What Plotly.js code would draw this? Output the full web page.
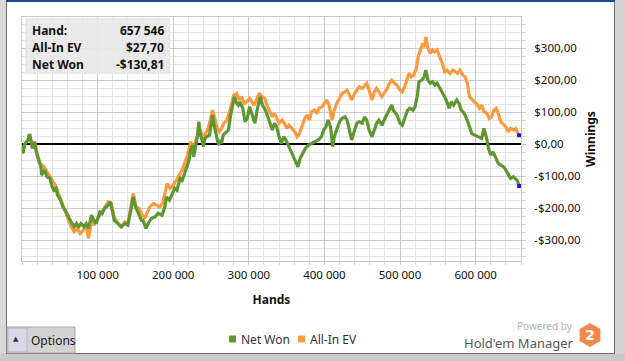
<!DOCTYPE html>
<html>
<head>
<meta charset="utf-8">
<script src="https://cdn.plot.ly/plotly-3.0.1.min.js"></script>
<style>html,body{margin:0;padding:0;background:#fff;}#chart{width:625px;height:361px;}</style>
</head>
<body>
<div id="chart"></div>
<script>
// ---- data ----
const netWonHands = [0,1000,4000,8000,10000,12000,14000,17000,19000,22000,25000,26000,30000,33000,37000,39000,42000,45000,47000,51000,54000,57000,61000,65000,69000,72000,75000,78000,82000,85000,88000,92000,95000,98000,103000,106000,109000,114000,117000,120000,122000,127000,131000,136000,140000,144000,147000,149000,151000,154000,158000,160000,164000,167000,171000,176000,180000,185000,189000,191000,195000,199000,202000,205000,209000,212000,215000,219000,221000,223000,226000,227000,230000,232000,234000,235000,238000,240000,242000,244000,248000,250000,252000,254000,256000,260000,262000,264000,266000,270000,273000,276000,279000,281000,283000,286000,288000,292000,295000,298000,301000,305000,308000,311000,315000,318000,322000,326000,331000,334000,337000,340000,343000,346000,349000,353000,356000,359000,362000,365000,368000,370000,375000,379000,383000,388000,392000,396000,399000,402000,405000,408000,411000,413000,417000,420000,423000,427000,430000,433000,436000,440000,443000,446000,450000,453000,456000,459000,463000,466000,469000,472000,476000,480000,483000,486000,489000,491000,496000,500000,503000,506000,510000,513000,517000,520000,523000,525000,529000,532000,534000,537000,540000,543000,546000,549000,553000,556000,559000,562000,565000,568000,571000,575000,578000,581000,585000,588000,592000,595000,599000,603000,608000,611000,614000,617000,620000,623000,627000,630000,633000,637000,640000,643000,646000,650000,653000,655000,657546];
const netWonValues = [-3,-29,2,13,31,13,-13,7,-24,-50,-71,-97,-81,-102,-107,-128,-144,-138,-159,-175,-196,-206,-227,-243,-258,-248,-258,-248,-258,-248,-263,-222,-238,-248,-212,-217,-201,-191,-180,-212,-238,-248,-258,-248,-253,-206,-165,-185,-201,-216,-238,-238,-263,-248,-232,-227,-216,-222,-196,-165,-175,-154,-138,-144,-107,-113,-92,-71,-50,-19,-3,-40,-8,23,70,38,13,-8,18,23,28,59,91,59,38,-3,13,2,28,38,44,91,122,148,132,122,132,112,70,81,117,85,65,106,148,122,106,80,44,65,54,23,2,23,13,-8,-24,-40,-55,-71,-44,-34,-13,-3,2,7,13,23,44,54,75,54,-8,23,54,70,80,85,75,44,13,44,65,70,65,85,75,44,23,44,65,75,59,80,96,106,122,106,91,65,59,80,106,112,106,117,153,195,200,210,231,200,190,195,184,190,174,163,148,132,112,132,122,138,127,106,96,80,49,33,28,23,18,49,23,-13,-34,-24,-45,-60,-65,-71,-81,-97,-107,-102,-107,-113,-130.81];

const allInHands = [0,1000,4000,8000,10000,12000,14000,17000,19000,22000,24000,29000,34000,40000,45000,50000,55000,61000,65000,69000,73000,77000,81000,85000,88000,92000,95000,99000,103000,108000,114000,118000,122000,127000,132000,136000,140000,144000,147000,151000,155000,159000,163000,165000,169000,174000,178000,182000,186000,189000,192000,196000,200000,204000,209000,212000,215000,219000,221000,223000,226000,229000,232000,234000,238000,241000,243000,246000,249000,252000,255000,258000,261000,264000,267000,271000,274000,277000,280000,284000,287000,290000,294000,297000,301000,304000,307000,310000,314000,317000,321000,324000,327000,331000,334000,337000,340000,344000,347000,350000,353000,357000,361000,364000,367000,370000,374000,377000,380000,383000,387000,390000,393000,397000,400000,403000,406000,410000,413000,417000,420000,423000,427000,430000,433000,436000,440000,443000,446000,450000,453000,456000,459000,463000,466000,469000,472000,476000,480000,483000,486000,489000,493000,496000,500000,503000,506000,510000,512000,515000,518000,521000,524000,527000,530000,533000,534000,537000,540000,543000,546000,549000,553000,556000,559000,562000,566000,570000,573000,576000,579000,583000,586000,589000,592000,595000,598000,601000,605000,608000,611000,615000,618000,621000,624000,627000,630000,633000,637000,640000,643000,646000,650000,653000,655000,657546];
const allInValues = [-3,-29,2,13,31,13,-13,7,-24,-45,-60,-71,-91,-113,-133,-165,-196,-232,-258,-274,-263,-279,-269,-258,-294,-238,-253,-238,-222,-206,-180,-185,-227,-248,-258,-243,-248,-196,-154,-196,-201,-222,-232,-216,-196,-185,-191,-196,-185,-154,-123,-138,-128,-113,-92,-81,-60,-34,-13,7,-8,2,28,59,28,18,34,49,75,106,80,49,39,49,65,75,96,127,153,158,138,148,127,132,143,132,122,138,159,148,143,122,106,85,96,80,65,75,65,49,59,49,38,23,33,54,80,91,75,101,106,96,112,117,127,138,122,75,106,132,143,158,163,169,153,138,159,169,179,174,184,190,169,138,163,174,163,148,163,174,190,200,190,184,169,163,179,210,221,210,216,231,273,294,315,304,335,299,283,294,288,294,273,252,226,231,221,231,226,221,231,216,210,190,148,138,132,127,112,122,101,96,80,85,106,112,96,70,59,54,38,49,44,49,38,27.70];

const seriesNames = ["Net Won", "All-In EV"];
const seriesColors = ["#5e9732", "#fb9a3e"];
const xTickVals = [100000, 200000, 300000, 400000, 500000, 600000];
const xTickText = ["100 000", "200 000", "300 000", "400 000", "500 000", "600 000"];
const yTickVals = [-300, -200, -100, 0, 100, 200, 300];
const yTickText = ["-$300,00", "-$200,00", "-$100,00", "$0,00", "$100,00", "$200,00", "$300,00"];
const infoLabels = ["Hand:", "All-In EV", "Net Won"];
const infoValues = ["657 546", "$27,70", "-$130,81"];

// ---- pixel helpers for decorations (plot area: x 22..521, y 17..261) ----
const PL = 22, PR = 521, PT = 17, PB = 261;
const fx = px => (px - PL) / (PR - PL);
const fy = py => (PB - py) / (PB - PT);

const FONT = "Noto Sans, Open Sans, sans-serif";
const last = a => a[a.length - 1];

const traces = [
  {x: allInHands, y: allInValues, type: "scatter", mode: "lines", name: seriesNames[1], line: {color: seriesColors[1], width: 3.2}, showlegend: false, hoverinfo: "skip"},
  {x: netWonHands, y: netWonValues, type: "scatter", mode: "lines", name: seriesNames[0], line: {color: seriesColors[0], width: 3.2}, showlegend: false, hoverinfo: "skip"},
  {x: [last(allInHands), last(netWonHands)], y: [last(allInValues), last(netWonValues)], type: "scatter", mode: "markers",
   marker: {color: "#1414e6", size: 4, symbol: "square"}, showlegend: false, hoverinfo: "skip", cliponaxis: false}
];

const shapes = [
  // window frame
  {type: "rect", xref: "paper", yref: "paper", x0: fx(0), x1: fx(6), y0: fy(361), y1: fy(0), fillcolor: "#d9d9d9", line: {width: 0}, layer: "above"},
  {type: "line", xref: "paper", yref: "paper", x0: fx(6.5), x1: fx(6.5), y0: fy(353), y1: fy(0), line: {color: "#6e6e6e", width: 1}, layer: "above"},
  {type: "rect", xref: "paper", yref: "paper", x0: fx(615), x1: fx(625), y0: fy(361), y1: fy(0), fillcolor: "#d4d4d4", line: {width: 0}, layer: "above"},
  {type: "line", xref: "paper", yref: "paper", x0: fx(614.5), x1: fx(614.5), y0: fy(353), y1: fy(0), line: {color: "#6e6e6e", width: 1}, layer: "above"},
  {type: "rect", xref: "paper", yref: "paper", x0: fx(0), x1: fx(625), y0: fy(361), y1: fy(353.5), fillcolor: "#c9c9c9", line: {width: 0}, layer: "above"},
  {type: "line", xref: "paper", yref: "paper", x0: fx(6), x1: fx(615), y0: fy(353.5), y1: fy(353.5), line: {color: "#6e6e6e", width: 1}, layer: "above"},
  {type: "rect", xref: "paper", yref: "paper", x0: fx(6), x1: fx(615), y0: fy(2), y1: fy(0), fillcolor: "#1d4b93", line: {width: 0}, layer: "above"},
  // info box
  {type: "rect", xref: "paper", yref: "paper", x0: fx(25), x1: fx(170), y0: fy(74), y1: fy(18), fillcolor: "rgba(232,232,232,0.92)", line: {width: 0}, layer: "above"},
  // Options button
  {type: "rect", xref: "paper", yref: "paper", x0: fx(7), x1: fx(75), y0: fy(353), y1: fy(327), fillcolor: "#d3d3d3", line: {color: "#a8a8a8", width: 1}, layer: "above"},
  {type: "rect", xref: "paper", yref: "paper", x0: fx(8), x1: fx(27), y0: fy(352), y1: fy(328), fillcolor: "#d8d8e6", line: {color: "#b8b8c8", width: 1}, layer: "above"},
  // legend squares
  {type: "rect", xref: "paper", yref: "paper", x0: fx(229), x1: fx(236), y0: fy(342.5), y1: fy(335.5), fillcolor: seriesColors[0], line: {width: 0}, layer: "above"},
  {type: "rect", xref: "paper", yref: "paper", x0: fx(298), x1: fx(305), y0: fy(342.5), y1: fy(335.5), fillcolor: seriesColors[1], line: {width: 0}, layer: "above"},
  // Hold'em Manager hexagon logo
  {type: "path", xref: "paper", yref: "paper", layer: "above", fillcolor: "#f2894a", line: {width: 0},
   path: `M${fx(590)},${fy(323)} L${fx(600.4)},${fy(329)} L${fx(600.4)},${fy(341)} L${fx(590)},${fy(347)} L${fx(579.6)},${fy(341)} L${fx(579.6)},${fy(329)} Z`}
];

const annotations = [];
const rowY = [31, 48, 64];
for (let i = 0; i < infoLabels.length; i++) {
  annotations.push({xref: "paper", yref: "paper", x: fx(30), y: fy(rowY[i]), xanchor: "left", yanchor: "middle", showarrow: false,
    text: "<b>" + infoLabels[i] + "</b>", font: {family: FONT, size: 12, color: "#111"}});
  annotations.push({xref: "paper", yref: "paper", x: fx(166), y: fy(rowY[i]), xanchor: "right", yanchor: "middle", showarrow: false,
    text: "<b>" + infoValues[i] + "</b>", font: {family: FONT, size: 12, color: "#111"}});
}
// legend labels
annotations.push({xref: "paper", yref: "paper", x: fx(239), y: fy(339), xanchor: "left", yanchor: "middle", showarrow: false,
  text: seriesNames[0], font: {family: FONT, size: 12, color: "#333"}});
annotations.push({xref: "paper", yref: "paper", x: fx(308), y: fy(339), xanchor: "left", yanchor: "middle", showarrow: false,
  text: seriesNames[1], font: {family: FONT, size: 12, color: "#333"}});
annotations.push({xref: "paper", yref: "paper", x: fx(16), y: fy(339), xanchor: "center", yanchor: "middle", showarrow: false,
  text: "▲", font: {family: "DejaVu Sans", size: 7, color: "#333"}});
annotations.push({xref: "paper", yref: "paper", x: fx(29), y: fy(340), xanchor: "left", yanchor: "middle", showarrow: false,
  text: "Options", font: {family: FONT, size: 12, color: "#1a1a1a"}});
annotations.push({xref: "paper", yref: "paper", x: fx(575), y: fy(326), xanchor: "right", yanchor: "middle", showarrow: false,
  text: "Powered by", font: {family: FONT, size: 10, color: "#b3b3b3"}});
annotations.push({xref: "paper", yref: "paper", x: fx(576), y: fy(343), xanchor: "right", yanchor: "middle", showarrow: false,
  text: "Hold'em Manager", font: {family: FONT, size: 13, color: "#555"}});
annotations.push({xref: "paper", yref: "paper", x: fx(590), y: fy(335), xanchor: "center", yanchor: "middle", showarrow: false,
  text: "<b>2</b>", font: {family: "DejaVu Sans", size: 14, color: "#ffffff"}});

const layout = {
  width: 625, height: 361,
  margin: {l: PL, r: 625 - PR, t: PT, b: 361 - PB, pad: 0},
  paper_bgcolor: "#ffffff", plot_bgcolor: "#ffffff",
  font: {family: FONT, size: 12, color: "#111"},
  showlegend: false,
  xaxis: {
    range: [0, 660000], tickmode: "array", tickvals: xTickVals, ticktext: xTickText,
    showgrid: true, gridcolor: "#c9c9c9", gridwidth: 1,
    minor: {tickmode: "linear", tick0: 0, dtick: 20000, showgrid: true, gridcolor: "#e4e4e4", ticks: "outside", ticklen: 3, tickcolor: "#d8d8d8"},
    ticks: "outside", ticklen: 3, tickcolor: "#c9c9c9",
    showline: true, mirror: true, linecolor: "#c9c9c9", linewidth: 1, zeroline: false,
    tickfont: {family: FONT, size: 11.5, color: "#111"},
    title: {text: "<b>Hands</b>", font: {family: FONT, size: 12, color: "#111"}, standoff: 14}
  },
  yaxis: {
    side: "right", range: [-365, 397], tickmode: "array", tickvals: yTickVals, ticktext: yTickText,
    showgrid: true, gridcolor: "#c9c9c9", gridwidth: 1,
    minor: {tickmode: "linear", tick0: 0, dtick: 25, showgrid: true, gridcolor: "#e4e4e4", ticks: "outside", ticklen: 4, tickcolor: "#d8d8d8"},
    ticks: "outside", ticklen: 4, tickcolor: "#c9c9c9", ticklabelstandoff: 6,
    showline: true, mirror: true, linecolor: "#c9c9c9", linewidth: 1,
    zeroline: true, zerolinecolor: "#000000", zerolinewidth: 2,
    tickfont: {family: FONT, size: 11.5, color: "#111"},
    title: {text: "<b>Winnings</b>", font: {family: FONT, size: 12, color: "#111"}, standoff: 6}
  },
  shapes: shapes,
  annotations: annotations,
  hovermode: false
};

Plotly.newPlot("chart", traces, layout, {staticPlot: true, displayModeBar: false});
</script>
</body>
</html>
